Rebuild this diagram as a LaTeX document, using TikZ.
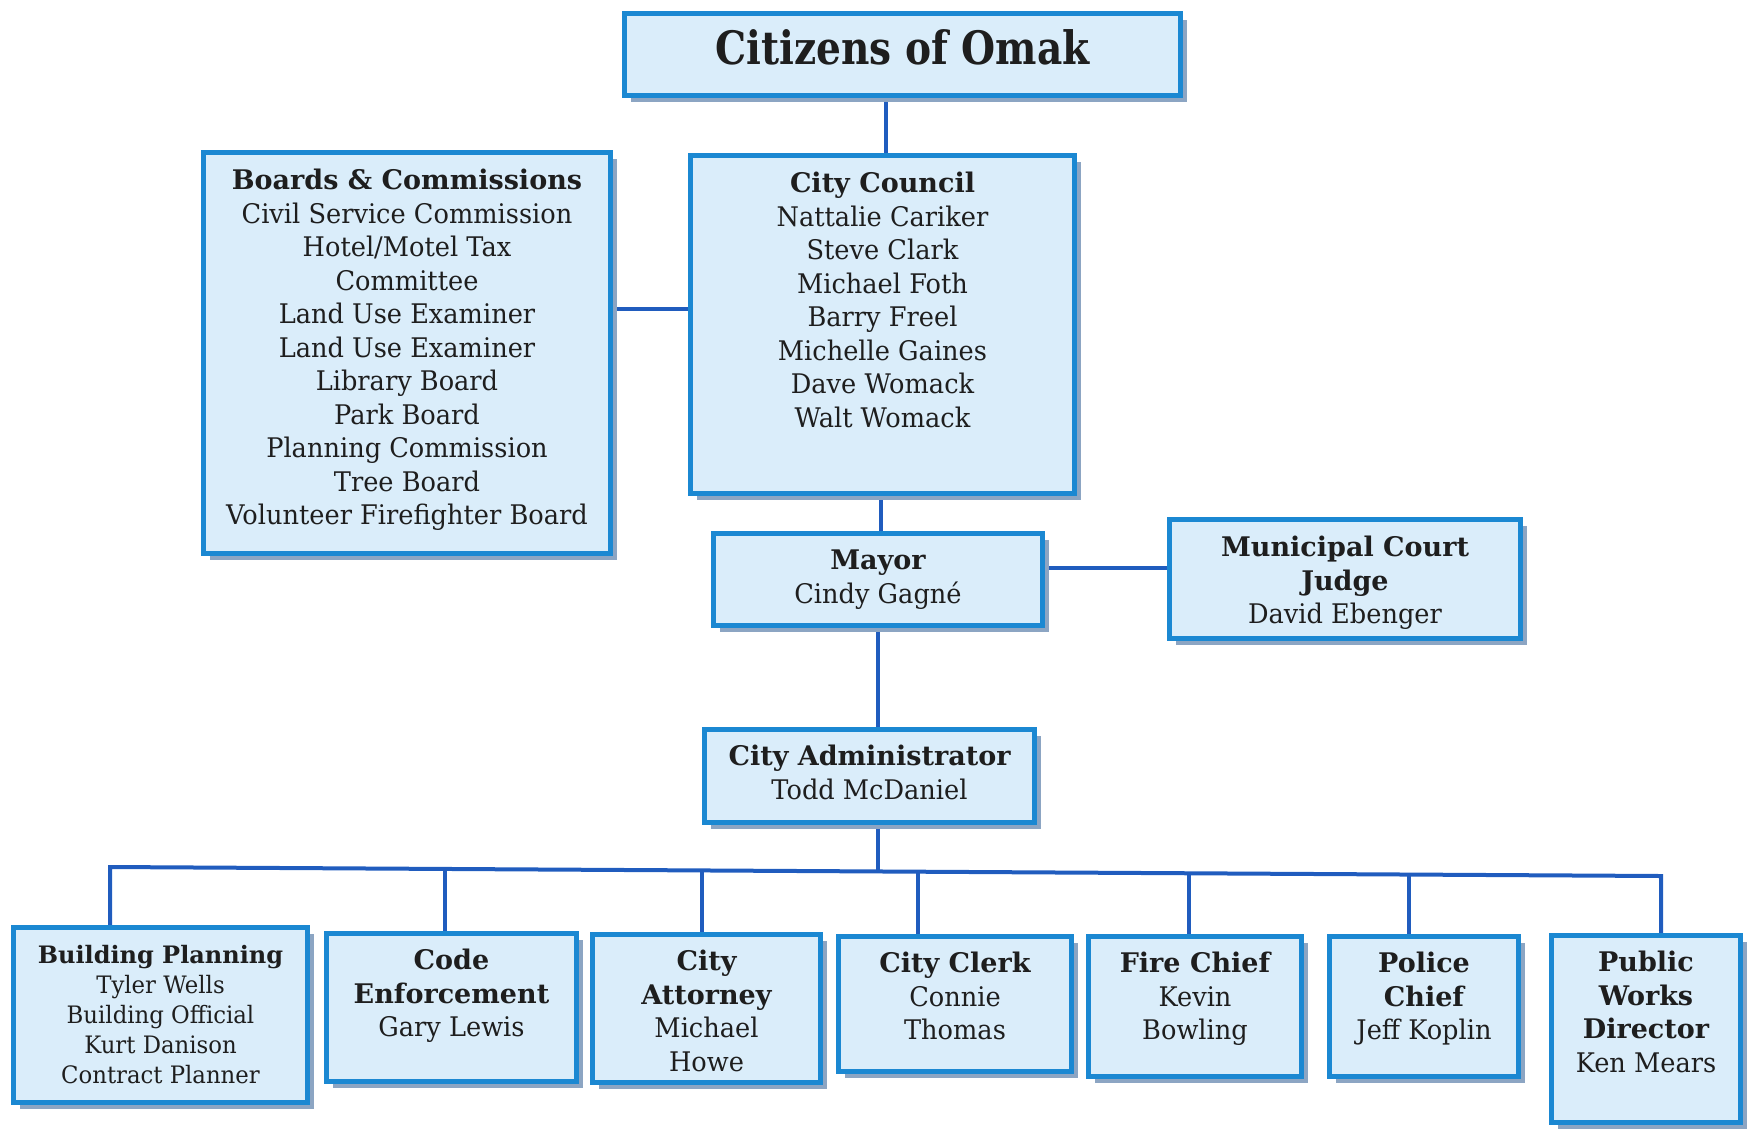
\documentclass[tikz,border=0pt]{standalone}
\usepackage{fontspec}
\setmainfont[FakeStretch=0.95]{DejaVu Serif}
\newfontfamily\boldf[FakeStretch=1.0]{DejaVu Serif Bold}
\newfontfamily\titlef[FakeStretch=0.85]{DejaVu Serif Bold}
\newcommand{\bfx}[1]{{\boldf #1}}
\usetikzlibrary{shadows,backgrounds}
\definecolor{bordc}{RGB}{27,136,210}
\definecolor{linec}{RGB}{32,92,190}
\definecolor{fillc}{RGB}{218,237,250}
\definecolor{shadc}{RGB}{140,165,195}
\definecolor{txtc}{RGB}{30,30,30}
\newcommand{\obox}[4]{\parbox[c][#2pt][t]{#1pt}{\centering\vspace*{#3pt}\strut#4\par}}
\tikzset{
  box/.style={draw=bordc, line width=5pt, fill=fillc, inner sep=0pt, text=txtc,
    drop shadow={shadow xshift=6pt, shadow yshift=-6pt, fill=shadc, opacity=1},
    font=\fontsize{27}{33.5}\selectfont},
  smallbox/.style={box, font=\fontsize{24}{30}\selectfont},
  titlebox/.style={box, font=\titlef\fontsize{46}{55}\selectfont},
  conn/.style={draw=linec, line width=4pt, line join=miter}
}
\begin{document}
\begin{tikzpicture}[x=1pt,y=1pt]
\useasboundingbox (0,0) rectangle (1750,-1128);

\node[titlebox] (cit) at (902.5,-54.5) {\obox{556}{82}{12}{Citizens of Omak}};
\node[box] (boards) at (407,-353) {\obox{407}{401}{14}{\bfx{Boards \& Commissions}\\Civil Service Commission\\Hotel/Motel Tax\\Committee\\Land Use Examiner\\Land Use Examiner\\Library Board\\Park Board\\Planning Commission\\Tree Board\\Volunteer Firefighter Board}};
\node[box] (council) at (882.5,-324.5) {\obox{384}{338}{14}{\bfx{City Council}\\Nattalie Cariker\\Steve Clark\\Michael Foth\\Barry Freel\\Michelle Gaines\\Dave Womack\\Walt Womack}};
\node[box] (mayor) at (878,-579.5) {\obox{329}{92}{13}{\bfx{Mayor}\\Cindy Gagné}};
\node[box] (judge) at (1345,-579) {\obox{351}{119}{14}{\bfx{Municipal Court}\\\bfx{Judge}\\David Ebenger}};
\node[box] (admin) at (869.5,-776) {\obox{330}{93}{13}{\bfx{City Administrator}\\Todd McDaniel}};
\node[smallbox] (bp) at (160.5,-1015) {\obox{294}{175}{15}{\bfx{Building Planning}\\Tyler Wells\\Building Official\\Kurt Danison\\Contract Planner}};
\node[box] (code) at (451.5,-1007.5) {\obox{250}{148}{13}{\bfx{Code}\\\bfx{Enforcement}\\Gary Lewis}};
\node[box] (atty) at (706.5,-1008.5) {\obox{228}{148}{13}{\bfx{City}\\\bfx{Attorney}\\Michael\\Howe}};
\node[box] (clerk) at (955,-1004) {\obox{233}{135}{13}{\bfx{City Clerk}\\Connie\\Thomas}};
\node[box] (fire) at (1195,-1006.5) {\obox{213}{140}{13}{\bfx{Fire Chief}\\Kevin\\Bowling}};
\node[box] (police) at (1424,-1006.5) {\obox{189}{140}{13}{\bfx{Police}\\\bfx{Chief}\\Jeff Koplin}};
\node[box] (pw) at (1646,-1029) {\obox{189}{187}{13}{\bfx{Public}\\\bfx{Works}\\\bfx{Director}\\Ken Mears}};

\coordinate (bus) at (878,-871);
\coordinate (dbp) at (110,-867);
\coordinate (dcode) at (445,-869);
\coordinate (datty) at (702,-870.4);
\coordinate (dclerk) at (918,-871.7);
\coordinate (dfire) at (1189,-873.3);
\coordinate (dpolice) at (1409,-874.5);
\coordinate (dpw) at (1661,-876);

\begin{scope}[on background layer]
\draw[conn] ([xshift=3.5pt]council.north) -- ([xshift=3.5pt]council.north |- cit.south);
\draw[conn] ([yshift=44pt]boards.east) -- ([yshift=44pt]boards.east -| council.west);
\draw[conn] ([xshift=-2pt]council.south) -- ([xshift=-2pt]council.south |- mayor.north);
\draw[conn] ([yshift=11.5pt]mayor.east) -- ([yshift=11.5pt]mayor.east -| judge.west);
\draw[conn] (mayor.south) -- (mayor.south |- admin.north);
\draw[conn] (bus) -- (bus |- admin.south);
\draw[conn] (dbp |- bp.north) -- (dbp) -- (dpw) -- (dpw |- pw.north);
\draw[conn] (dcode) -- (dcode |- code.north);
\draw[conn] (datty) -- (datty |- atty.north);
\draw[conn] (dclerk) -- (dclerk |- clerk.north);
\draw[conn] (dfire) -- (dfire |- fire.north);
\draw[conn] (dpolice) -- (dpolice |- police.north);
\end{scope}
\end{tikzpicture}
\end{document}
